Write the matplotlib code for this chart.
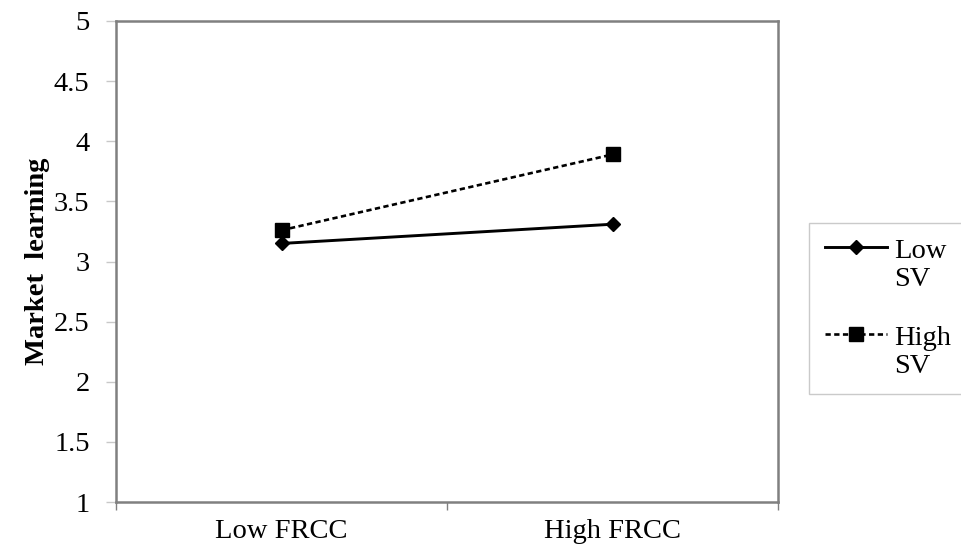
import matplotlib.pyplot as plt
from matplotlib.ticker import FixedLocator
from matplotlib.legend_handler import HandlerLine2D

categorias = ["Low FRCC", "High FRCC"]
low_sv = [3.15, 3.31]
high_sv = [3.26, 3.89]
yticks = [1, 1.5, 2, 2.5, 3, 3.5, 4, 4.5, 5]
ytick_labels = ["1", "1.5", "2", "2.5", "3", "3.5", "4", "4.5", "5"]

plt.rcParams["font.family"] = ["Liberation Serif", "DejaVu Serif"]
FS = 20.5


class HandlerArriba(HandlerLine2D):
    # subir el simbolo a la altura de la primera linea del texto
    def create_artists(self, legend, orig_handle, xdescent, ydescent,
                       width, height, fontsize, trans):
        arts = super().create_artists(legend, orig_handle, xdescent, ydescent,
                                      width, height, fontsize, trans)
        for a in arts:
            a.set_ydata([y + fontsize * 0.62 for y in a.get_ydata()])
        return arts


fig = plt.figure(figsize=(9.61, 5.5), dpi=100)
ax = fig.add_axes([116 / 961, 48 / 550, 662 / 961, 481 / 550])

x = list(range(len(categorias)))
ax.plot(x, low_sv, color="black", lw=2.1, marker="D", markersize=7,
        label="Low\nSV")
ax.plot(x, high_sv, color="black", lw=1.9, ls=(0, (2.0, 1.3)), marker="s",
        markersize=9.5, label="High\nSV")

ax.set_xlim(-0.5, len(categorias) - 0.5)
ax.set_ylim(1, 5)
ax.set_xticks(x)
ax.set_xticklabels(categorias, fontsize=FS)
ax.xaxis.set_minor_locator(FixedLocator([-0.5, 0.5, 1.5]))
ax.tick_params(axis="x", which="major", length=0, pad=12)
ax.tick_params(axis="x", which="minor", length=6, color="#808080", width=1)
ax.set_yticks(yticks)
ax.set_yticklabels(ytick_labels, fontsize=FS)
ax.tick_params(axis="y", length=7, color="#c8c8c8", width=1, pad=12)

for s in ax.spines.values():
    s.set_color("#808080")
    s.set_linewidth(1.8)

ax.set_ylabel("Market  learning", fontsize=FS, fontweight="bold", labelpad=3)

leg = fig.legend(loc="upper left", bbox_to_anchor=(809 / 961, 1 - 223 / 550),
                 borderaxespad=0, fontsize=FS, frameon=True, fancybox=False,
                 handlelength=2.2, labelspacing=1.2, borderpad=0.55,
                 handletextpad=0.25,
                 handler_map={plt.Line2D: HandlerArriba()})
leg.get_frame().set_edgecolor("#bdbdbd")
leg.get_frame().set_linewidth(1)
for t in leg.get_texts():
    t.set_linespacing(1.15)

plt.savefig("out.png", dpi=100)
